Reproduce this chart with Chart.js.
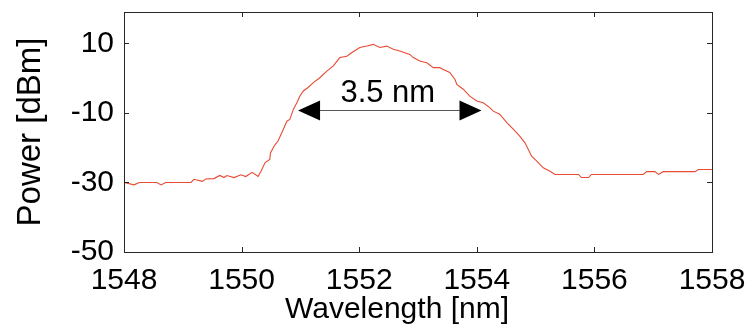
<!DOCTYPE html>
<html>
<head>
<meta charset="utf-8">
<script src="https://cdn.jsdelivr.net/npm/chart.js@4.4.0/dist/chart.umd.min.js"></script>
<style>
  html, body { margin: 0; padding: 0; background: #fff; }
  #wrap { width: 750px; height: 331px; }
</style>
</head>
<body>
<div id="wrap"><canvas id="spectrum" width="750" height="331"></canvas></div>
<script>
// spectrum
const wavelength = [
  1548.00, 1548.17, 1548.26, 1548.56, 1548.63, 1548.71, 1549.14, 1549.19, 1549.33, 1549.39,
  1549.53, 1549.63, 1549.70, 1549.75, 1549.87, 1549.99, 1550.07, 1550.18, 1550.28, 1550.33,
  1550.40, 1550.48, 1550.49, 1550.57, 1550.62, 1550.71, 1550.77, 1550.82, 1550.88, 1550.94,
  1550.99, 1551.05, 1551.13, 1551.22, 1551.33, 1551.45, 1551.56, 1551.67, 1551.79, 1551.87,
  1552.01, 1552.13, 1552.24, 1552.35, 1552.47, 1552.58, 1552.69, 1552.86, 1552.92, 1553.03,
  1553.15, 1553.26, 1553.37, 1553.43, 1553.54, 1553.63, 1553.66, 1553.77, 1553.88, 1554.00,
  1554.11, 1554.22, 1554.28, 1554.39, 1554.51, 1554.62, 1554.73, 1554.82, 1554.93, 1555.02,
  1555.13, 1555.24, 1555.33, 1555.73, 1555.78, 1555.90, 1555.95, 1556.83, 1556.89, 1557.03,
  1557.09, 1557.17, 1557.71, 1557.77, 1557.97, 1558.00
];
const power = [
  -30.0, -30.7, -30.0, -30.0, -30.7, -30.0, -30.0, -29.1, -29.7, -29.0,
  -28.9, -28.0, -28.6, -28.0, -28.6, -27.8, -28.3, -27.1, -28.3, -26.8,
  -24.3, -23.4, -21.5, -19.1, -18.1, -14.7, -12.4, -11.9, -9.0, -7.1,
  -5.2, -3.7, -2.7, -1.3, 0.1, 2.0, 3.5, 5.9, 6.3, 7.3,
  8.8, 9.2, 9.7, 8.8, 9.2, 8.3, 7.8, 6.8, 5.9, 4.9,
  4.4, 3.0, 3.0, 2.5, 1.6, -0.4, -1.8, -3.2, -5.2, -6.6,
  -7.1, -8.5, -9.5, -10.4, -12.8, -14.7, -16.7, -18.6, -22.4, -23.9,
  -25.8, -26.7, -27.7, -27.7, -28.6, -28.6, -27.7, -27.7, -26.9, -26.9,
  -27.7, -26.9, -26.9, -26.3, -26.3, -26.3
];

const xTicks = [1548, 1550, 1552, 1554, 1556, 1558];
const yTicks = [-50, -30, -10, 10];
const xTitle = 'Wavelength [nm]';

// 3 dB width marker
const arrowFrom = 1550.96;
const arrowTo = 1554.08;
const arrowLevel = -9.3;
const widthLabel = '3.5 nm';

const FONT = 'Liberation Sans, Arial, Helvetica, sans-serif';

// frame with inward ticks on all four sides, like the original plot
const framePlugin = {
  id: 'frame',
  afterDraw(chart) {
    const { ctx, chartArea: a, scales: { x, y } } = chart;
    ctx.save();
    ctx.strokeStyle = '#262626';
    ctx.lineWidth = 1;
    ctx.strokeRect(a.left + 0.5, a.top + 0.5, a.right - a.left, a.bottom - a.top);
    ctx.beginPath();
    xTicks.forEach(v => {
      const px = Math.round(x.getPixelForValue(v)) + 0.5;
      ctx.moveTo(px, a.bottom); ctx.lineTo(px, a.bottom - 5);
      ctx.moveTo(px, a.top); ctx.lineTo(px, a.top + 5);
    });
    yTicks.forEach(v => {
      const py = Math.round(y.getPixelForValue(v)) + 0.5;
      ctx.moveTo(a.left, py); ctx.lineTo(a.left + 5, py);
      ctx.moveTo(a.right, py); ctx.lineTo(a.right - 5, py);
    });
    ctx.stroke();
    // x title sits a little left of centre in the original
    ctx.fillStyle = '#000';
    ctx.font = '30px ' + FONT;
    ctx.textAlign = 'center';
    ctx.textBaseline = 'middle';
    ctx.fillText(xTitle, (a.left + a.right) / 2 - 21, a.bottom + 58);
    ctx.restore();
  }
};

const arrowPlugin = {
  id: 'widthArrow',
  afterDatasetsDraw(chart) {
    const { ctx, scales: { x, y } } = chart;
    const x1 = x.getPixelForValue(arrowFrom);
    const x2 = x.getPixelForValue(arrowTo);
    const py = Math.round(y.getPixelForValue(arrowLevel)) + 0.5;
    const head = 22, half = 10;
    ctx.save();
    ctx.strokeStyle = '#555';
    ctx.lineWidth = 1;
    ctx.beginPath();
    ctx.moveTo(x1 + head, py);
    ctx.lineTo(x2 - head, py);
    ctx.stroke();
    ctx.fillStyle = '#000';
    ctx.beginPath();
    ctx.moveTo(x1, py); ctx.lineTo(x1 + head, py - half); ctx.lineTo(x1 + head, py + half);
    ctx.closePath(); ctx.fill();
    ctx.beginPath();
    ctx.moveTo(x2, py); ctx.lineTo(x2 - head, py - half); ctx.lineTo(x2 - head, py + half);
    ctx.closePath(); ctx.fill();
    ctx.font = '31px ' + FONT;
    ctx.textAlign = 'center';
    ctx.textBaseline = 'alphabetic';
    ctx.fillText(widthLabel, (x1 + x2) / 2 - 2, py - 9);
    ctx.restore();
  }
};

new Chart(document.getElementById('spectrum'), {
  type: 'scatter',
  data: {
    datasets: [{
      data: wavelength.map((w, i) => ({ x: w, y: power[i] })),
      showLine: true,
      borderColor: '#e84b33',
      borderWidth: 1.1,
      pointRadius: 0,
      tension: 0
    }]
  },
  options: {
    responsive: false,
    animation: false,
    layout: { padding: { left: 0, right: 38, top: 12, bottom: 0 } },
    plugins: { legend: { display: false }, tooltip: { enabled: false } },
    scales: {
      x: {
        type: 'linear',
        min: 1548,
        max: 1558,
        afterBuildTicks: s => { s.ticks = xTicks.map(v => ({ value: v })); },
        afterFit: s => { s.height = 79; s.paddingLeft = 0; s.paddingRight = 0; },
        grid: { display: false, drawTicks: false },
        border: { display: false },
        ticks: { color: '#000', font: { family: FONT, size: 30 }, padding: 11, maxRotation: 0, callback: v => String(v) },
        title: { display: false }
      },
      y: {
        min: -50,
        max: 19,
        afterBuildTicks: s => { s.ticks = yTicks.map(v => ({ value: v })); },
        afterFit: s => { s.width = 124; s.paddingTop = 0; s.paddingBottom = 0; },
        grid: { display: false, drawTicks: false },
        border: { display: false },
        ticks: { color: '#000', font: { family: FONT, size: 30 }, padding: 10, callback: v => String(v) },
        title: { display: true, text: 'Power [dBm]', color: '#000', font: { family: FONT, size: 33 }, padding: { top: 11, bottom: 0 } }
      }
    }
  },
  plugins: [framePlugin, arrowPlugin]
});
</script>
</body>
</html>
